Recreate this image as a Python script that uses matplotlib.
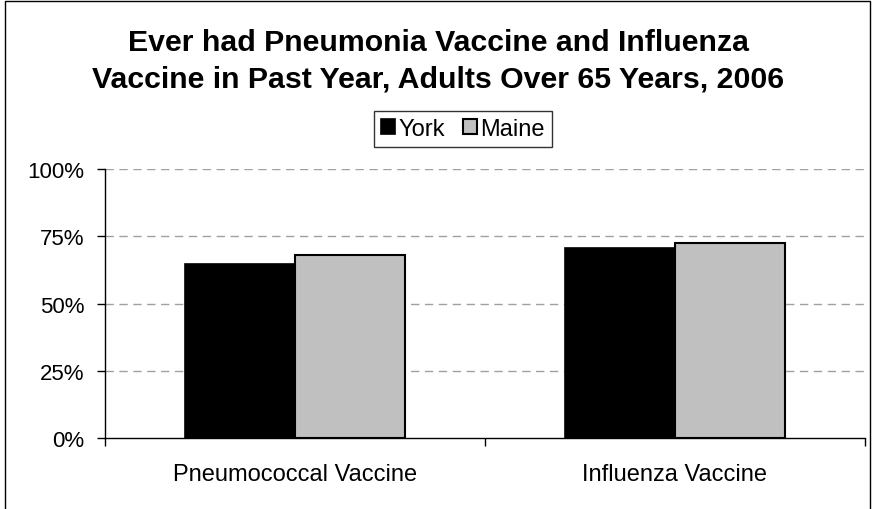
import matplotlib.pyplot as plt
import numpy as np
from matplotlib.patches import Rectangle

# Data
categories = ['Pneumococcal Vaccine', 'Influenza Vaccine']
york = [64.7, 70.6]
maine = [68.1, 72.5]
yticks = [0, 25, 50, 75, 100]
ytick_labels = ['0%', '25%', '50%', '75%', '100%']

plt.rcParams['font.family'] = ['Liberation Sans', 'DejaVu Sans']

fig = plt.figure(figsize=(8.73, 5.1), dpi=100)
ax = fig.add_axes([105 / 873, 1 - 439.3 / 510, 760 / 873, 269.3 / 510])

x = np.arange(len(categories))
w = 0.29
ax.bar(x - w / 2, york, w, color='black', edgecolor='black', linewidth=1.2, label='York', zorder=3)
ax.bar(x + w / 2, maine, w, color='#c0c0c0', edgecolor='black', linewidth=1.5, label='Maine', zorder=3)

ax.set_xlim(-0.5, 1.5)
ax.set_ylim(0, 100)
ax.set_yticks(yticks)
ax.set_yticklabels(ytick_labels, fontsize=16)
ax.set_xticks(x)
ax.set_xticklabels(categories, fontsize=17)
ax.set_xticks([-0.5, 0.5, 1.5], minor=True)
ax.tick_params(axis='x', which='major', length=0, pad=18)
ax.tick_params(axis='x', which='minor', length=6, direction='out', width=1)
ax.tick_params(axis='y', length=6, direction='out', width=1, pad=9)

# dashed gridlines except at zero
for v in yticks[1:]:
    ax.axhline(v, color='#a0a0a0', linestyle=(0, (6, 4)), linewidth=1, zorder=1)

for s in ['top', 'right']:
    ax.spines[s].set_visible(False)
for s in ['left', 'bottom']:
    ax.spines[s].set_linewidth(1)

fig.text(0.502, 1 - 51 / 510, 'Ever had Pneumonia Vaccine and Influenza',
         ha='center', va='baseline', fontsize=21.8, fontweight='bold')
fig.text(0.502, 1 - 88 / 510, 'Vaccine in Past Year, Adults Over 65 Years, 2006',
         ha='center', va='baseline', fontsize=21.8, fontweight='bold')

leg = fig.legend(loc='center', bbox_to_anchor=(463 / 873, 1 - 130 / 510), ncol=2,
                 fontsize=17, frameon=True, fancybox=False, handlelength=0.6,
                 handleheight=0.6, handletextpad=0.15, columnspacing=0.75,
                 borderpad=0.28, borderaxespad=0)
leg.get_frame().set_edgecolor('black')
leg.get_frame().set_linewidth(1)

# outer chart border
fig.add_artist(Rectangle((5 / 873, -0.05), 865 / 873, 1.05 - 2 / 510,
                         transform=fig.transFigure, fill=False,
                         edgecolor='black', linewidth=1))

fig.savefig('out.png', dpi=100)
